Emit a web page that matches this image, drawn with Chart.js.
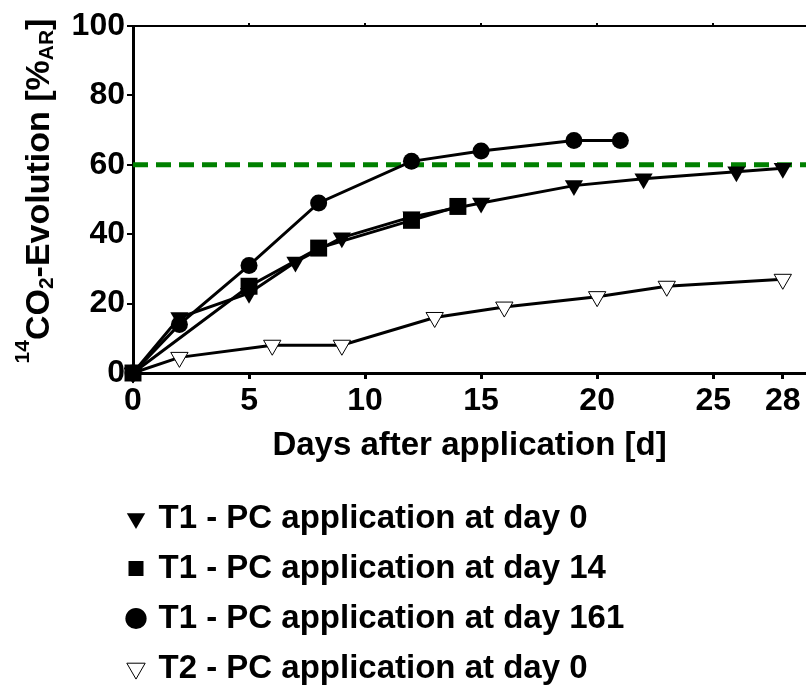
<!DOCTYPE html>
<html>
<head>
<meta charset="utf-8">
<script src="https://cdn.jsdelivr.net/npm/chart.js@4.4.0/dist/chart.umd.min.js"></script>
<style>
  html, body { margin: 0; padding: 0; background: #fff; }
</style>
</head>
<body>
<canvas id="chart" width="806" height="686"></canvas>
<script>
// axis ticks
const dayTicks = [0, 5, 10, 15, 20, 25, 28];
const topTicks = [5, 10, 15, 20, 25];
const yTicks = [0, 20, 40, 60, 80, 100];

// T1 - PC application at day 0
const t1Day0Days = [0, 2, 5, 7, 9, 12, 15, 19, 22, 26, 28];
const t1Day0Values = [0, 16, 23, 32, 39, 45, 49, 54, 56, 58, 59];

// T1 - PC application at day 14
const t1Day14Days = [0, 5, 8, 12, 14];
const t1Day14Values = [0, 25, 36, 44, 48];

// T1 - PC application at day 161
const t1Day161Days = [0, 2, 5, 8, 12, 15, 19, 21];
const t1Day161Values = [0, 14, 31, 49, 61, 64, 67, 67];

// T2 - PC application at day 0
const t2Day0Days = [0, 2, 6, 9, 13, 16, 20, 23, 28];
const t2Day0Values = [0, 4.5, 8, 8, 16, 19, 22, 25, 27];

// 60 % reference line
const refDays = [0, 29];
const refValues = [60, 60];

const FONT = '"Liberation Sans", Arial, sans-serif';
Chart.defaults.font.family = FONT;
Chart.defaults.font.weight = 'bold';
Chart.defaults.color = '#000';

const toPoints = (xs, ys) => xs.map((x, i) => ({ x, y: ys[i] }));

const lineSet = (label, xs, ys, style, radius, order, fill = '#000', bw = 0) => ({
  label,
  data: toPoints(xs, ys),
  borderColor: '#000',
  borderWidth: 3,
  pointStyle: style,
  pointRotation: style === 'triangle' ? 180 : 0,
  pointRadius: radius,
  pointBackgroundColor: fill,
  pointBorderColor: '#000',
  pointBorderWidth: bw,
  order,
  clip: false,
});

const noSidePadding = (s) => {
  s.paddingLeft = 0;
  s.paddingRight = 0;
};

// y title with super- and subscripts
const yTitlePlugin = {
  id: 'yTitle',
  afterDraw(chart) {
    const { ctx } = chart;
    const big = `bold 34px ${FONT}`;
    const small = `bold 21px ${FONT}`;
    const parts = [
      { t: '14', f: small, dy: -20 },
      { t: 'CO', f: big, dy: 0 },
      { t: '2', f: small, dy: 4 },
      { t: '-Evolution [%', f: big, dy: 0 },
      { t: 'AR', f: small, dy: 4 },
      { t: ']', f: big, dy: 0 },
    ];
    ctx.save();
    let total = 0;
    parts.forEach((p) => {
      ctx.font = p.f;
      p.w = ctx.measureText(p.t).width;
      total += p.w;
    });
    ctx.translate(49, 191 + total / 2);
    ctx.rotate(-Math.PI / 2);
    ctx.fillStyle = '#000';
    ctx.textBaseline = 'alphabetic';
    let x = 0;
    parts.forEach((p) => {
      ctx.font = p.f;
      ctx.fillText(p.t, x, p.dy);
      x += p.w;
    });
    ctx.restore();
  },
};

// move the legend rows under the plot, left aligned
const legendPlacePlugin = {
  id: 'legendPlace',
  afterLayout(chart) {
    chart.legend.left = 113;
    chart.legend.top = 485;
  },
};

new Chart(document.getElementById('chart'), {
  type: 'line',
  data: {
    datasets: [
      lineSet('T1 - PC application at day 0', t1Day0Days, t1Day0Values, 'triangle', 10.5, 1),
      lineSet('T1 - PC application at day 14', t1Day14Days, t1Day14Values, 'rect', 12, 0),
      lineSet('T1 - PC application at day 161', t1Day161Days, t1Day161Values, 'circle', 8.5, 2),
      lineSet('T2 - PC application at day 0', t2Day0Days, t2Day0Values, 'triangle', 10, 3, '#fff', 1),
      {
        label: '60 %',
        data: toPoints(refDays, refValues),
        borderColor: 'rgb(0, 128, 0)',
        borderWidth: 5,
        borderDash: [15, 8],
        pointRadius: 0,
        order: 4,
        clip: false,
      },
    ],
  },
  options: {
    responsive: false,
    animation: false,
    layout: { padding: 0, autoPadding: false },
    scales: {
      x: {
        type: 'linear',
        position: 'bottom',
        min: 0,
        max: 29,
        afterBuildTicks: (s) => { s.ticks = dayTicks.map((v) => ({ value: v })); },
        afterFit: (s) => { s.height = 103; noSidePadding(s); },
        grid: { drawOnChartArea: false, color: '#000', lineWidth: 3, tickLength: 6 },
        border: { color: '#000', width: 3 },
        ticks: { font: { size: 32, weight: 'bold' }, padding: 3, maxRotation: 0 },
        title: {
          display: true,
          text: 'Days after application [d]',
          font: { size: 33, weight: 'bold' },
          padding: { top: 0, bottom: 10 },
        },
      },
      xTop: {
        type: 'linear',
        position: 'top',
        min: 0,
        max: 29,
        afterBuildTicks: (s) => { s.ticks = topTicks.map((v) => ({ value: v })); },
        afterFit: (s) => { s.height = 26; noSidePadding(s); },
        grid: { drawOnChartArea: false, color: '#000', lineWidth: 2, tickLength: 3 },
        border: { color: '#000', width: 2 },
        ticks: { display: false },
      },
      y: {
        type: 'linear',
        min: 0,
        max: 100,
        afterBuildTicks: (s) => { s.ticks = yTicks.map((v) => ({ value: v })); },
        afterFit: (s) => { s.width = 133; },
        grid: { drawOnChartArea: false, color: '#000', lineWidth: 2, tickLength: 6 },
        border: { color: '#000', width: 3 },
        ticks: { font: { size: 32, weight: 'bold' }, padding: 2 },
      },
    },
    plugins: {
      legend: {
        position: 'bottom',
        align: 'start',
        labels: {
          usePointStyle: true,
          boxWidth: 12,
          boxHeight: 15,
          padding: 17,
          color: '#000',
          font: { size: 33, weight: 'bold' },
          filter: (item) => item.datasetIndex < 4,
          sort: (a, b) => a.datasetIndex - b.datasetIndex,
        },
      },
      tooltip: { enabled: false },
    },
  },
  plugins: [yTitlePlugin, legendPlacePlugin],
});
</script>
</body>
</html>
